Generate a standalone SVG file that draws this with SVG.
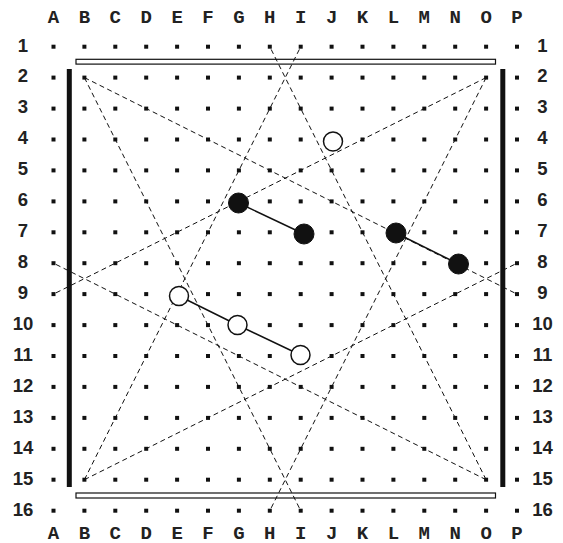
<svg xmlns="http://www.w3.org/2000/svg" xmlns:xlink="http://www.w3.org/1999/xlink" width="563" height="543" viewBox="0 0 563 543">
<style>
.let{font-family:"Liberation Mono","DejaVu Sans Mono",monospace;font-weight:bold;font-size:19px;text-anchor:middle;fill:#222}
.num{font-family:"Liberation Sans",Arial,sans-serif;font-weight:bold;font-size:18.5px;text-anchor:middle;fill:#222}
.dash{stroke:#111;stroke-width:1;stroke-dasharray:5,3.5;fill:none}
.link{stroke:#111;stroke-width:1.5;fill:none}
.blk{fill:#111;stroke:#111;stroke-width:1}
.wht{fill:#fff;stroke:#111;stroke-width:1.5}
.bar{fill:#111}
.rail{fill:#fff;stroke:#111;stroke-width:1.2}
</style>
<defs>
<g id="dotrow" fill="#111">
<rect x="51.5" y="-2" width="4" height="4"/><rect x="82.4" y="-2" width="4" height="4"/><rect x="113.3" y="-2" width="4" height="4"/><rect x="144.2" y="-2" width="4" height="4"/><rect x="175.1" y="-2" width="4" height="4"/><rect x="206" y="-2" width="4" height="4"/><rect x="236.9" y="-2" width="4" height="4"/><rect x="267.8" y="-2" width="4" height="4"/><rect x="298.7" y="-2" width="4" height="4"/><rect x="329.6" y="-2" width="4" height="4"/><rect x="360.5" y="-2" width="4" height="4"/><rect x="391.4" y="-2" width="4" height="4"/><rect x="422.3" y="-2" width="4" height="4"/><rect x="453.2" y="-2" width="4" height="4"/><rect x="484.1" y="-2" width="4" height="4"/><rect x="515" y="-2" width="4" height="4"/>
</g>
</defs>
<rect width="563" height="543" fill="#fff"/>
<g id="labels-top">
<text class="let" x="53.5" y="22.5">A</text><text class="let" x="84.4" y="22.5">B</text><text class="let" x="115.3" y="22.5">C</text><text class="let" x="146.2" y="22.5">D</text><text class="let" x="177.1" y="22.5">E</text><text class="let" x="208" y="22.5">F</text><text class="let" x="238.9" y="22.5">G</text><text class="let" x="269.8" y="22.5">H</text><text class="let" x="300.7" y="22.5">I</text><text class="let" x="331.6" y="22.5">J</text><text class="let" x="362.5" y="22.5">K</text><text class="let" x="393.4" y="22.5">L</text><text class="let" x="424.3" y="22.5">M</text><text class="let" x="455.2" y="22.5">N</text><text class="let" x="486.1" y="22.5">O</text><text class="let" x="517" y="22.5">P</text>
</g>
<g id="labels-bottom">
<text class="let" x="53.5" y="538.5">A</text><text class="let" x="84.4" y="538.5">B</text><text class="let" x="115.3" y="538.5">C</text><text class="let" x="146.2" y="538.5">D</text><text class="let" x="177.1" y="538.5">E</text><text class="let" x="208" y="538.5">F</text><text class="let" x="238.9" y="538.5">G</text><text class="let" x="269.8" y="538.5">H</text><text class="let" x="300.7" y="538.5">I</text><text class="let" x="331.6" y="538.5">J</text><text class="let" x="362.5" y="538.5">K</text><text class="let" x="393.4" y="538.5">L</text><text class="let" x="424.3" y="538.5">M</text><text class="let" x="455.2" y="538.5">N</text><text class="let" x="486.1" y="538.5">O</text><text class="let" x="517" y="538.5">P</text>
</g>
<g id="labels-left">
<text class="num" x="23" y="51.5">1</text><text class="num" x="23" y="82.4">2</text><text class="num" x="23" y="113.4">3</text><text class="num" x="23" y="144.3">4</text><text class="num" x="23" y="175.2">5</text><text class="num" x="23" y="206.2">6</text><text class="num" x="23" y="237.1">7</text><text class="num" x="23" y="268">8</text><text class="num" x="23" y="298.9">9</text><text class="num" x="23" y="329.9">10</text><text class="num" x="23" y="360.8">11</text><text class="num" x="23" y="391.7">12</text><text class="num" x="23" y="422.7">13</text><text class="num" x="23" y="453.6">14</text><text class="num" x="23" y="484.5">15</text><text class="num" x="23" y="515.5">16</text>
</g>
<g id="labels-right">
<text class="num" x="542.5" y="51.5">1</text><text class="num" x="542.5" y="82.4">2</text><text class="num" x="542.5" y="113.4">3</text><text class="num" x="542.5" y="144.3">4</text><text class="num" x="542.5" y="175.2">5</text><text class="num" x="542.5" y="206.2">6</text><text class="num" x="542.5" y="237.1">7</text><text class="num" x="542.5" y="268">8</text><text class="num" x="542.5" y="298.9">9</text><text class="num" x="542.5" y="329.9">10</text><text class="num" x="542.5" y="360.8">11</text><text class="num" x="542.5" y="391.7">12</text><text class="num" x="542.5" y="422.7">13</text><text class="num" x="542.5" y="453.6">14</text><text class="num" x="542.5" y="484.5">15</text><text class="num" x="542.5" y="515.5">16</text>
</g>
<g id="dots">
<use xlink:href="#dotrow" y="46.7"/><use xlink:href="#dotrow" y="77.6"/><use xlink:href="#dotrow" y="108.6"/><use xlink:href="#dotrow" y="139.5"/><use xlink:href="#dotrow" y="170.4"/><use xlink:href="#dotrow" y="201.4"/><use xlink:href="#dotrow" y="232.3"/><use xlink:href="#dotrow" y="263.2"/><use xlink:href="#dotrow" y="294.1"/><use xlink:href="#dotrow" y="325.1"/><use xlink:href="#dotrow" y="356"/><use xlink:href="#dotrow" y="386.9"/><use xlink:href="#dotrow" y="417.9"/><use xlink:href="#dotrow" y="448.8"/><use xlink:href="#dotrow" y="479.7"/><use xlink:href="#dotrow" y="510.7"/>
</g>
<g id="borders">
<rect class="bar" x="66.8" y="69" width="5" height="418"/>
<rect class="bar" x="500.3" y="69" width="5" height="418"/>
<rect class="rail" x="76" y="59.3" width="419.5" height="4.8"/>
<rect class="rail" x="76" y="493" width="419.5" height="5"/>
</g>
<g id="connectors">
<line class="dash" x1="84.4" y1="77.6" x2="517" y2="294.1"/>
<line class="dash" x1="84.4" y1="77.6" x2="300.7" y2="510.7"/>
<line class="dash" x1="486.1" y1="77.6" x2="53.5" y2="294.1"/>
<line class="dash" x1="486.1" y1="77.6" x2="269.8" y2="510.7"/>
<line class="dash" x1="84.4" y1="479.7" x2="517" y2="263.2"/>
<line class="dash" x1="84.4" y1="479.7" x2="300.7" y2="46.7"/>
<line class="dash" x1="486.1" y1="479.7" x2="53.5" y2="263.2"/>
<line class="dash" x1="486.1" y1="479.7" x2="269.8" y2="46.7"/>
<line class="link" x1="238.5" y1="203" x2="304" y2="234"/>
<line class="link" x1="396" y1="233" x2="458.5" y2="264"/>
<polyline class="link" points="179,296 237.5,325 300.5,355"/>
</g>
<g id="stone-G6"><circle class="blk" cx="238.5" cy="203" r="10"/></g>
<g id="stone-I7"><circle class="blk" cx="304" cy="234" r="10"/></g>
<g id="stone-L7"><circle class="blk" cx="396" cy="233" r="10"/></g>
<g id="stone-N8"><circle class="blk" cx="458.5" cy="264" r="10"/></g>
<g id="stone-J4"><circle class="wht" cx="333" cy="141.5" r="9.5"/></g>
<g id="stone-E9"><circle class="wht" cx="179" cy="296" r="9.5"/></g>
<g id="stone-G10"><circle class="wht" cx="237.5" cy="325" r="9.5"/></g>
<g id="stone-I11"><circle class="wht" cx="300.5" cy="355" r="9.5"/></g>
</svg>
